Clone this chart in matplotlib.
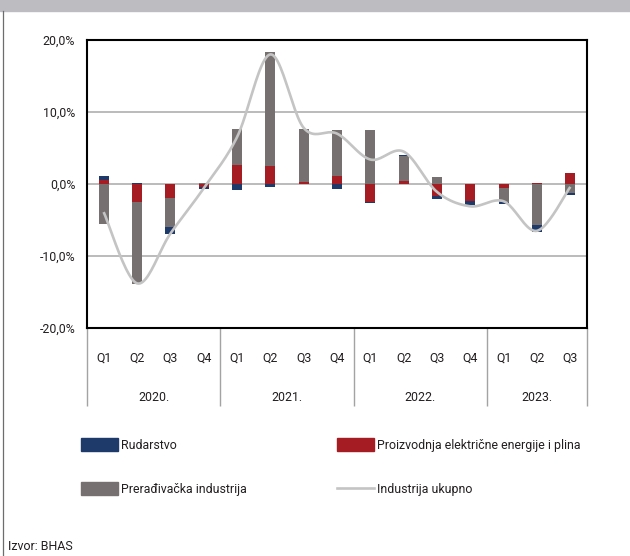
import matplotlib.pyplot as plt
import matplotlib.transforms as mtransforms
from matplotlib.patches import Patch, Rectangle
from matplotlib.lines import Line2D
import numpy as np

plt.rcParams['font.family'] = ['Roboto', 'DejaVu Sans']

quarters = ["Q1", "Q2", "Q3", "Q4", "Q1", "Q2", "Q3", "Q4",
            "Q1", "Q2", "Q3", "Q4", "Q1", "Q2", "Q3"]
years = ["2020.", "2021.", "2022.", "2023."]
year_len = [4, 4, 4, 3]

rudarstvo = [0.6, 0.1, -0.9, -0.3, -0.9, -0.45, 0.0, -0.7,
             -0.2, 0.15, -0.45, -0.55, -0.25, -0.9, -0.3]
energija = [0.55, -2.45, -2.0, -0.45, 2.7, 2.5, 0.3, 1.1,
            -2.45, 0.4, -1.6, -2.4, -0.55, 0.2, 1.5]
preradjivacka = [-5.6, -11.5, -4.0, 0.1, 4.9, 15.8, 7.4, 6.35,
                 7.5, 3.5, 1.0, 0.0, -2.0, -5.7, -1.2]
ukupno = [-3.9, -13.8, -6.9, -0.6, 6.5, 18.0, 7.8, 7.0,
          3.4, 4.5, -1.1, -3.1, -2.4, -6.5, -0.4]

C_NAVY = "#1d3a6b"
C_RED = "#a51d23"
C_GRAY = "#767170"
C_LINE = "#c4c4c4"
TXT = "#231f20"
FS = 8.9


def smooth(xs, ys, n=24):
    # excel-like smoothed line (catmull-rom bezier)
    xs = np.asarray(xs, float)
    ys = np.asarray(ys, float)
    px = np.concatenate([[xs[0]], xs, [xs[-1]]])
    py = np.concatenate([[ys[0]], ys, [ys[-1]]])
    t = np.linspace(0, 1, n)[:, None]
    out_x, out_y = [], []
    for i in range(1, len(xs)):
        p0 = np.array([px[i], py[i]])
        p3 = np.array([px[i + 1], py[i + 1]])
        c1 = p0 + (np.array([px[i + 1], py[i + 1]]) - np.array([px[i - 1], py[i - 1]])) / 6
        c2 = p3 - (np.array([px[i + 2], py[i + 2]]) - np.array([px[i], py[i]])) / 6
        b = ((1 - t) ** 3) * p0 + 3 * ((1 - t) ** 2) * t * c1 + 3 * (1 - t) * t ** 2 * c2 + t ** 3 * p3
        out_x.extend(b[:, 0])
        out_y.extend(b[:, 1])
    return out_x, out_y


fig = plt.figure(figsize=(6.3, 5.56), dpi=100)
W, H = 630, 556

# top grey band and left border
fig.patches.append(Rectangle((0, 1 - 11 / H), 1, 11 / H, transform=fig.transFigure,
                             color="#bdbdc1", zorder=0))
fig.add_artist(Line2D([2.5 / W, 2.5 / W], [0, 1 - 11 / H], color="#6d6d6d", lw=0.9))

ax = fig.add_axes([87 / W, 1 - 328 / H, 500 / W, 288 / H])
x = np.arange(len(quarters))

for lev in (10, 0, -10):
    ax.axhline(lev, color="#a8a8a8", lw=1.1, zorder=0.5)

pos_b = np.zeros(len(x))
neg_b = np.zeros(len(x))
for vals, col in [(energija, C_RED), (preradjivacka, C_GRAY), (rudarstvo, C_NAVY)]:
    v = np.array(vals)
    pos = np.clip(v, 0, None)
    neg = np.clip(v, None, 0)
    ax.bar(x, pos, 0.3, bottom=pos_b, color=col, zorder=2)
    ax.bar(x, neg, 0.3, bottom=neg_b, color=col, zorder=2)
    pos_b += pos
    neg_b += neg

sx, sy = smooth(x, ukupno)
ax.plot(sx, sy, color=C_LINE, lw=1.9, zorder=3, solid_capstyle="butt")

ax.set_xlim(-0.5, len(x) - 0.5)
ax.set_ylim(-20, 20)
ax.set_yticks([20, 10, 0, -10, -20])
ax.set_yticklabels(["20,0%", "10,0%", "0,0%", "-10,0%", "-20,0%"])
ax.tick_params(axis="y", length=0, pad=8.5, labelsize=FS, labelcolor=TXT)
ax.set_xticks([])
for s in ax.spines.values():
    s.set_color("black")
    s.set_linewidth(1.5)

# category axis below the plot
trans = mtransforms.blended_transform_factory(ax.transData, ax.transAxes)
for i, q in enumerate(quarters):
    ax.text(i, -30 / 288, q, transform=trans, ha="center", va="center",
            fontsize=FS, color=TXT)
start = 0
seps = [-0.5]
for yr, n in zip(years, year_len):
    ax.text(start + (n - 1) / 2, -69.5 / 288, yr, transform=trans, ha="center",
            va="center", fontsize=FS, color=TXT)
    start += n
    seps.append(start - 0.5)
ax.vlines(seps, 0, -78 / 288, transform=trans, color="#a3a3a3", lw=1.0, clip_on=False)

# legend
h_rud = Patch(color=C_NAVY, label="Rudarstvo")
h_ene = Patch(color=C_RED, label="Proizvodnja električne energije i plina")
h_pre = Patch(color=C_GRAY, label="Prerađivačka industrija")
h_uk = Line2D([], [], color=C_LINE, lw=1.9, label="Industrija ukupno")
common = dict(loc="upper left", frameon=False, fontsize=FS, borderpad=0,
              borderaxespad=0, handlelength=3.0, handleheight=1.2,
              handletextpad=0.25, labelspacing=2.5, labelcolor=TXT)
fig.legend(handles=[h_rud, h_pre], bbox_to_anchor=(81 / W, 1 - 438 / H), **common)
fig.legend(handles=[h_ene, h_uk], bbox_to_anchor=(337 / W, 1 - 438 / H), **common)

fig.text(8 / W, 1 - 547 / H, "Izvor: BHAS", ha="left", va="center", fontsize=FS, color=TXT)

fig.savefig("out.png", dpi=100)
